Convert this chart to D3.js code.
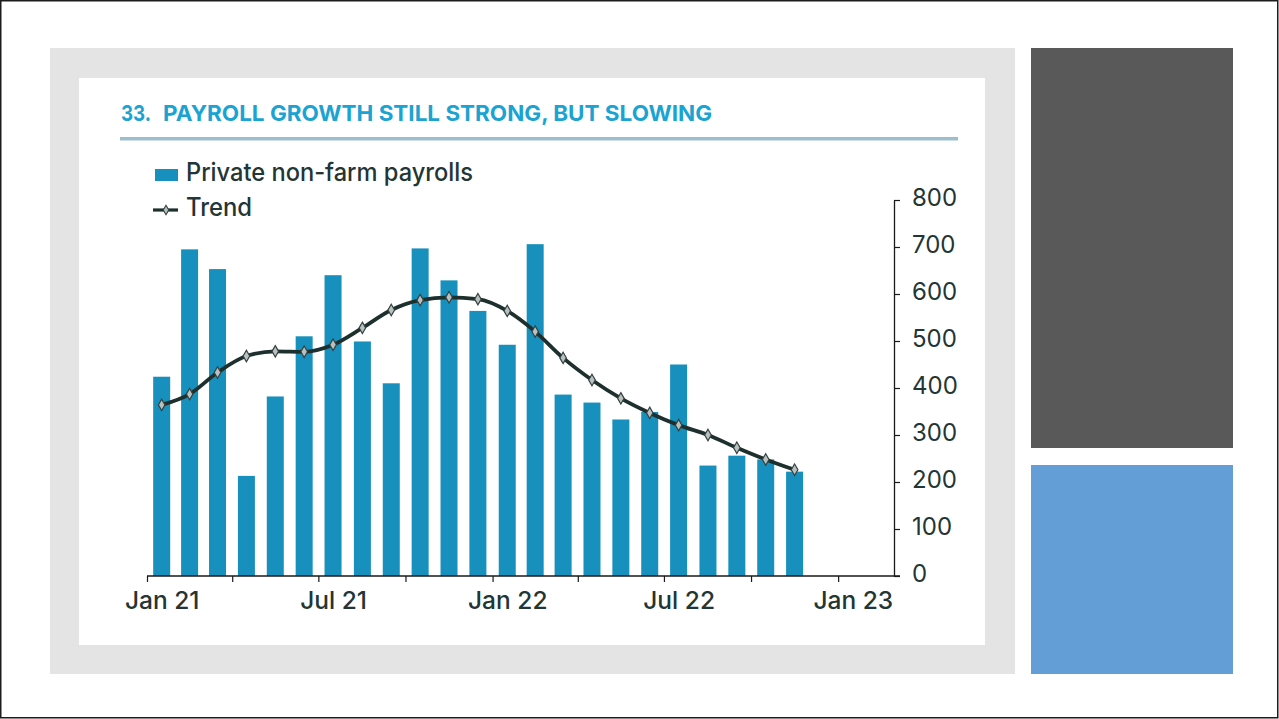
<!DOCTYPE html>
<html>
<head>
<meta charset="utf-8">
<script src="https://cdn.jsdelivr.net/npm/d3@7"></script>
<style>
  html, body { margin: 0; padding: 0; background: #ffffff; }
  svg { display: block; }
  text { font-family: Inter, "Open Sans", sans-serif; }
</style>
</head>
<body>
<svg id="chart" width="1279" height="719"></svg>
<script>
// Monthly private non-farm payroll changes (thousands), Jan 2021 – Nov 2022
const months = [
  "2021-01","2021-02","2021-03","2021-04","2021-05","2021-06",
  "2021-07","2021-08","2021-09","2021-10","2021-11","2021-12",
  "2022-01","2022-02","2022-03","2022-04","2022-05","2022-06",
  "2022-07","2022-08","2022-09","2022-10","2022-11"
];
const payrolls = [
  424, 695, 653, 213, 382, 510, 640, 499, 410, 697, 629, 564,
  492, 706, 386, 369, 333, 349, 450, 235, 256, 248, 222
];
const trend = [
  364, 387, 433, 468, 478, 477, 492, 528, 566, 587, 593, 589,
  564, 520, 464, 417, 378, 347, 321, 300, 273, 248, 226
];
const yTicks = [0, 100, 200, 300, 400, 500, 600, 700, 800];
const xTickLabels = ["Jan 21", "Jul 21", "Jan 22", "Jul 22", "Jan 23"];
const titleNumber = "33.";
const titleText = "PAYROLL GROWTH STILL STRONG, BUT SLOWING";
const legendLabels = ["Private non-farm payrolls", "Trend"];

const parseMonth = d3.timeParse("%Y-%m");
const data = months.map((m, i) => ({
  date: parseMonth(m),
  value: payrolls[i],
  trend: trend[i]
}));

const svg = d3.select("#chart");
const ink = "#233534";
const barColor = "#1790bd";

// Page frame and side panels
svg.append("rect").attr("x", 0.75).attr("y", 0.75).attr("width", 1277).attr("height", 717)
  .attr("fill", "#ffffff").attr("stroke", "#1c1c1c").attr("stroke-width", 1.5);
svg.append("rect").attr("x", 50).attr("y", 48).attr("width", 965).attr("height", 626).attr("fill", "#e4e4e4");
svg.append("rect").attr("x", 79).attr("y", 78).attr("width", 906).attr("height", 567).attr("fill", "#ffffff");
svg.append("rect").attr("x", 1031).attr("y", 48).attr("width", 202).attr("height", 400).attr("fill", "#595959");
svg.append("rect").attr("x", 1031).attr("y", 465).attr("width", 202).attr("height", 209).attr("fill", "#639fd6");

// Title and rule
svg.append("text").attr("x", 121).attr("y", 120.5)
  .attr("fill", "#1ba3d1").attr("font-size", 22).attr("font-weight", 700)
  .attr("textLength", 30).attr("lengthAdjust", "spacingAndGlyphs")
  .text(titleNumber);
svg.append("text").attr("x", 163).attr("y", 120.5)
  .attr("fill", "#1ba3d1").attr("font-size", 22).attr("font-weight", 700)
  .attr("textLength", 549).attr("lengthAdjust", "spacingAndGlyphs")
  .text(titleText);
svg.append("rect").attr("x", 120).attr("y", 137).attr("width", 838).attr("height", 3.5).attr("fill", "#9dbfcd");

// Scales
const x = d3.scaleTime()
  .domain([new Date(2021, 0, 1), new Date(2023, 2, 1)])
  .range([147, 894]);
const y = d3.scaleLinear().domain([0, 800]).range([576, 200]);

const monthCenter = d => (x(d) + x(d3.timeMonth.offset(d, 1))) / 2;
const barWidth = 17;

// Bars
svg.append("g").selectAll("rect").data(data).join("rect")
  .attr("x", d => monthCenter(d.date) - barWidth / 2)
  .attr("y", d => y(d.value))
  .attr("width", barWidth)
  .attr("height", d => y(0) - y(d.value))
  .attr("fill", barColor);

// Trend line with diamond markers
const line = d3.line()
  .x(d => monthCenter(d.date))
  .y(d => y(d.trend))
  .curve(d3.curveMonotoneX);
svg.append("path").datum(data)
  .attr("d", line)
  .attr("fill", "none")
  .attr("stroke", "#1e302e")
  .attr("stroke-width", 3.8);
const diamond = d3.symbol(d3.symbolDiamond, 38);
svg.append("g").selectAll("path").data(data).join("path")
  .attr("transform", d => `translate(${monthCenter(d.date)},${y(d.trend)})`)
  .attr("d", diamond)
  .attr("fill", "#b9c1c0")
  .attr("stroke", "#33413f")
  .attr("stroke-width", 1.2);

// X axis: quarterly ticks, labels every six months centred on their month
const quarterTicks = d3.timeMonth.every(3).range(new Date(2021, 0, 1), new Date(2023, 0, 2));
const xAxis = d3.axisBottom(x)
  .tickValues(quarterTicks)
  .tickSize(6)
  .tickSizeOuter(0)
  .tickFormat((d, i) => (i % 2 === 0 ? xTickLabels[i / 2] : ""));
const gx = svg.append("g").attr("transform", `translate(0,${y(0)})`).call(xAxis);
gx.select(".domain").attr("stroke", "#1a1a1a").attr("stroke-width", 1.3)
  .attr("d", `M${x.range()[0]},0H${x.range()[1] + 6}`);
gx.selectAll(".tick line").attr("stroke", "#1a1a1a").attr("stroke-width", 1.2);
gx.selectAll(".tick text")
  .attr("fill", ink).attr("font-size", 24.5).attr("font-weight", 500)
  .attr("font-family", "Inter, sans-serif")
  .attr("x", d => monthCenter(d) - x(d))
  .attr("y", 16).attr("dy", "0.71em");

// Y axis on the right
const yAxis = d3.axisRight(y).tickValues(yTicks).tickSize(6).tickSizeOuter(0).tickPadding(12);
const gy = svg.append("g").attr("transform", `translate(${x.range()[1]},0)`).call(yAxis);
gy.select(".domain").attr("stroke", "#1a1a1a").attr("stroke-width", 1.3);
gy.selectAll(".tick line").attr("stroke", "#1a1a1a").attr("stroke-width", 1.2);
gy.selectAll(".tick text")
  .attr("fill", ink).attr("font-size", 24).attr("font-weight", 400)
  .attr("font-family", "Inter, sans-serif")
  .attr("dy", "0.24em");

// Legend
const legend = svg.append("g");
legend.append("rect").attr("x", 155).attr("y", 169).attr("width", 23).attr("height", 12).attr("fill", barColor);
legend.append("text").attr("x", 186).attr("y", 181)
  .attr("fill", ink).attr("font-size", 25).attr("font-weight", 500)
  .attr("textLength", 287).attr("lengthAdjust", "spacingAndGlyphs")
  .text(legendLabels[0]);
legend.append("line").attr("x1", 153).attr("x2", 178).attr("y1", 210).attr("y2", 210)
  .attr("stroke", "#1e302e").attr("stroke-width", 3.2);
legend.append("path").attr("transform", "translate(166,210)")
  .attr("d", d3.symbol(d3.symbolDiamond, 26))
  .attr("fill", "#b9c1c0").attr("stroke", "#33413f").attr("stroke-width", 1.1);
legend.append("text").attr("x", 186).attr("y", 216)
  .attr("fill", ink).attr("font-size", 25).attr("font-weight", 500)
  .attr("textLength", 66).attr("lengthAdjust", "spacingAndGlyphs")
  .text(legendLabels[1]);
</script>
</body>
</html>
